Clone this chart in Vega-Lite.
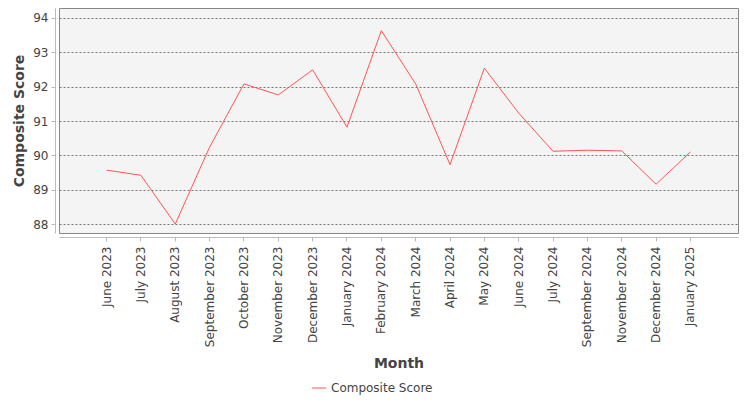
{
  "$schema": "https://vega.github.io/schema/vega-lite/v6.json",
  "width": 679,
  "height": 225,
  "autosize": {"type": "none"},
  "padding": {"left": 59, "top": 8, "right": 12, "bottom": 167},
  "background": "white",
  "data": {
    "values": [
      {"Month": "June 2023", "Score": 89.57, "Series": "Composite Score"},
      {"Month": "July 2023", "Score": 89.42, "Series": "Composite Score"},
      {"Month": "August 2023", "Score": 88.0, "Series": "Composite Score"},
      {"Month": "September 2023", "Score": 90.24, "Series": "Composite Score"},
      {"Month": "October 2023", "Score": 92.08, "Series": "Composite Score"},
      {"Month": "November 2023", "Score": 91.76, "Series": "Composite Score"},
      {"Month": "December 2023", "Score": 92.49, "Series": "Composite Score"},
      {"Month": "January 2024", "Score": 90.82, "Series": "Composite Score"},
      {"Month": "February 2024", "Score": 93.63, "Series": "Composite Score"},
      {"Month": "March 2024", "Score": 92.08, "Series": "Composite Score"},
      {"Month": "April 2024", "Score": 89.73, "Series": "Composite Score"},
      {"Month": "May 2024", "Score": 92.54, "Series": "Composite Score"},
      {"Month": "June 2024", "Score": 91.23, "Series": "Composite Score"},
      {"Month": "July 2024", "Score": 90.12, "Series": "Composite Score"},
      {"Month": "September 2024", "Score": 90.15, "Series": "Composite Score"},
      {"Month": "November 2024", "Score": 90.13, "Series": "Composite Score"},
      {"Month": "December 2024", "Score": 89.16, "Series": "Composite Score"},
      {"Month": "January 2025", "Score": 90.1, "Series": "Composite Score"}
    ]
  },
  "mark": {"type": "line", "strokeWidth": 1},
  "encoding": {
    "x": {
      "field": "Month",
      "type": "ordinal",
      "sort": null,
      "scale": {"type": "band", "paddingInner": 0, "paddingOuter": 0.885},
      "axis": {
        "title": "Month",
        "labelAngle": -90,
        "labelAlign": "right",
        "labelBaseline": "middle",
        "labelPadding": 5,
        "offset": 4,
        "tickSize": 4,
        "bandPosition": 0.5,
        "titlePadding": 10
      }
    },
    "y": {
      "field": "Score",
      "type": "quantitative",
      "scale": {"domain": [87.74, 94.29], "nice": false, "zero": false},
      "axis": {
        "title": "Composite Score",
        "values": [88, 89, 90, 91, 92, 93, 94],
        "grid": true,
        "gridDash": [2, 2],
        "gridColor": "#777777",
        "gridOpacity": 1,
        "offset": 4,
        "tickSize": 4,
        "labelPadding": 3,
        "titlePadding": 6
      }
    },
    "color": {
      "field": "Series",
      "type": "nominal",
      "scale": {"range": ["#ff5555"]},
      "legend": {
        "title": null,
        "orient": "none",
        "legendX": 252,
        "legendY": 372,
        "symbolType": "stroke",
        "symbolSize": 200,
        "symbolStrokeWidth": 1,
        "labelFontSize": 12,
        "labelColor": "#444444",
        "labelFont": "DejaVu Sans"
      }
    }
  },
  "config": {
    "view": {"fill": "#f4f4f4", "stroke": "#888888", "strokeWidth": 1},
    "axis": {
      "labelFont": "DejaVu Sans",
      "labelFontSize": 12,
      "labelColor": "#444444",
      "titleFont": "DejaVu Sans",
      "titleFontSize": 14,
      "titleFontWeight": "bold",
      "titleColor": "#444444",
      "domainColor": "#bbbbbb",
      "tickColor": "#bbbbbb"
    }
  }
}
